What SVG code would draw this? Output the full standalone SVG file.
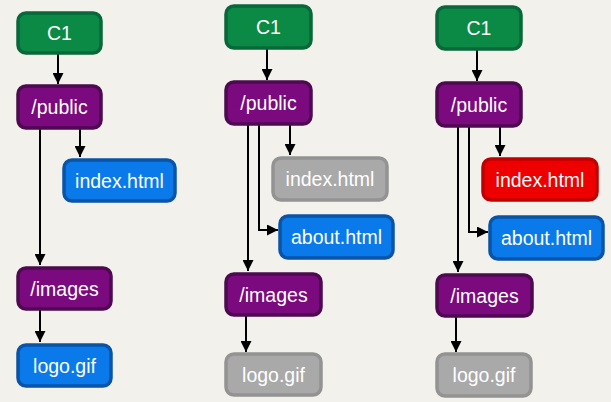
<svg xmlns="http://www.w3.org/2000/svg" width="611" height="402" viewBox="0 0 611 402">
<defs>
<style>
.n rect{stroke-width:3.5;rx:8;ry:8}
.n text{font-family:"Liberation Sans",Arial,sans-serif;font-size:19.5px;fill:#fff;text-anchor:middle;dominant-baseline:central}
.g rect{fill:#0b8a45;stroke:#09683a}
.p rect{fill:#7a0a7e;stroke:#4d0a50}
.b rect{fill:#0a7aea;stroke:#0a54a8}
.y rect{fill:#a9a9a9;stroke:#939393}
.r rect{fill:#ee0000;stroke:#c00000}
.c path{fill:none;stroke:#000;stroke-width:2;marker-end:url(#ah)}
</style>
<marker id="ah" viewBox="0 0 10 10" refX="10" refY="5" markerWidth="5.5" markerHeight="5.5" orient="auto" markerUnits="strokeWidth">
<path d="M0,0 L10,5 L0,10 z" fill="#000"/>
</marker>
</defs>
<rect width="611" height="402" fill="#f2f1eb"/>
<g class="c" id="connectors">
<path d="M58,54 V84"/>
<path d="M80,129 V157"/>
<path d="M40,129 V265"/>
<path d="M40,310 V342"/>
<path d="M267,49 V80"/>
<path d="M290,125 V155"/>
<path d="M259,125 V230 H278"/>
<path d="M248,125 V271"/>
<path d="M246,316 V352"/>
<path d="M477,50 V81"/>
<path d="M500,127 V156"/>
<path d="M469,127 V232 H488"/>
<path d="M458,127 V272"/>
<path d="M456,317 V352"/>
</g>
<g id="c1a" class="n g"><rect x="18" y="13" width="83" height="40"/><text x="59.5" y="33">C1</text></g>
<g id="publica" class="n p"><rect x="18" y="86" width="83" height="42"/><text x="59.5" y="107">/public</text></g>
<g id="indexa" class="n b"><rect x="64" y="160" width="111" height="41"/><text x="119.5" y="180.5">index.html</text></g>
<g id="imagesa" class="n p"><rect x="18" y="268" width="93" height="41"/><text x="64.5" y="288.5">/images</text></g>
<g id="logoa" class="n b"><rect x="18" y="345" width="93" height="41"/><text x="64.5" y="365.5">logo.gif</text></g>
<g id="c1b" class="n g"><rect x="226" y="6" width="85" height="42"/><text x="268.5" y="27">C1</text></g>
<g id="publicb" class="n p"><rect x="226" y="82" width="85" height="42"/><text x="268.5" y="103">/public</text></g>
<g id="indexb" class="n y"><rect x="273" y="158" width="114" height="42"/><text x="330" y="179">index.html</text></g>
<g id="aboutb" class="n b"><rect x="280" y="216" width="113" height="42"/><text x="336.5" y="237">about.html</text></g>
<g id="imagesb" class="n p"><rect x="226" y="274" width="95" height="41"/><text x="273.5" y="294.5">/images</text></g>
<g id="logob" class="n y"><rect x="226" y="354" width="95" height="41"/><text x="273.5" y="374.5">logo.gif</text></g>
<g id="c1c" class="n g"><rect x="437" y="7" width="84" height="42"/><text x="479" y="28">C1</text></g>
<g id="publicc" class="n p"><rect x="437" y="83" width="84" height="43"/><text x="479" y="104.5">/public</text></g>
<g id="indexc" class="n r"><rect x="483" y="159" width="114" height="41"/><text x="540" y="179.5">index.html</text></g>
<g id="aboutc" class="n b"><rect x="490" y="217" width="113" height="42"/><text x="546.5" y="238">about.html</text></g>
<g id="imagesc" class="n p"><rect x="437" y="275" width="95" height="41"/><text x="484.5" y="295.5">/images</text></g>
<g id="logoc" class="n y"><rect x="437" y="354" width="94" height="42"/><text x="484" y="375">logo.gif</text></g>
</svg>
